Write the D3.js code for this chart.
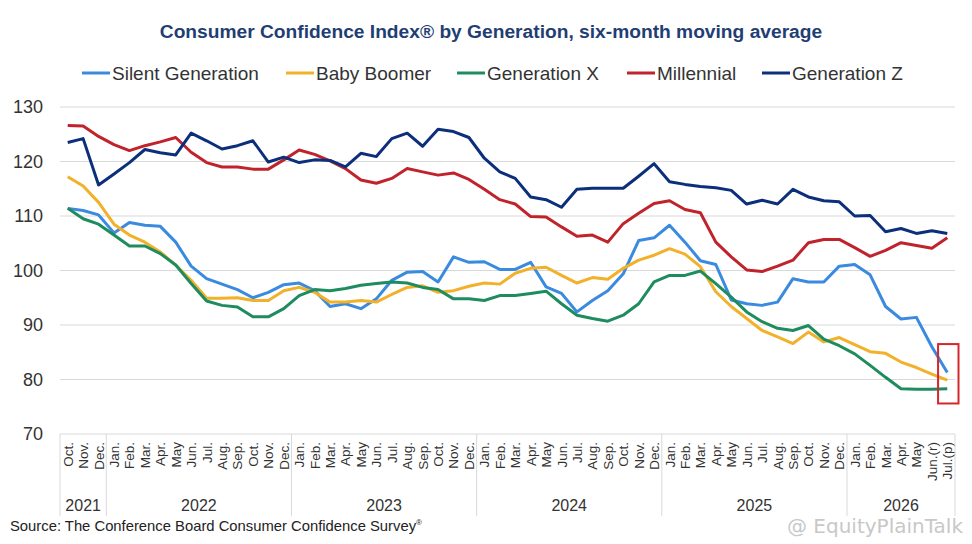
<!DOCTYPE html>
<html>
<head>
<meta charset="utf-8">
<style>
    body { margin: 0; background: #fff; }
    svg { display: block; font-family: Arial, 'Liberation Sans', sans-serif; }
    .grid line { stroke: #d9d9d9; stroke-width: 1; }
    .ytick { font-size: 18px; fill: #333; }
    .month { font-size: 13.5px; fill: #333; }
    .year { font-size: 16px; fill: #333; }
    .legend text { font-size: 19px; fill: #333; }
</style>
</head>
<body>
<svg width="972" height="544"></svg>

<script src="https://cdn.jsdelivr.net/npm/d3@7"></script>
<script>
    // months on the axis, Oct 2021 .. Jul 2026
    let months = ["Oct.", "Nov.", "Dec.",
        "Jan.", "Feb.", "Mar.", "Apr.", "May", "Jun.", "Jul.", "Aug.", "Sep.", "Oct.", "Nov.", "Dec.",
        "Jan.", "Feb.", "Mar.", "Apr.", "May", "Jun.", "Jul.", "Aug.", "Sep.", "Oct.", "Nov.", "Dec.",
        "Jan.", "Feb.", "Mar.", "Apr.", "May", "Jun.", "Jul.", "Aug.", "Sep.", "Oct.", "Nov.", "Dec.",
        "Jan.", "Feb.", "Mar.", "Apr.", "May", "Jun.", "Jul.", "Aug.", "Sep.", "Oct.", "Nov.", "Dec.",
        "Jan.", "Feb.", "Mar.", "Apr.", "May", "Jun.(r)", "Jul.(p)"]

    let years = ["2021", "2022", "2023", "2024", "2025", "2026"]
    let yearCounts = [3, 12, 12, 12, 12, 7]

    let yTicks = [70, 80, 90, 100, 110, 120, 130]

    let silent = [111.4, 111.0, 110.2, 106.9, 108.8, 108.3, 108.1, 105.2, 100.8, 98.5, 97.5, 96.5, 95.0, 96.0, 97.4,
        97.7, 96.3, 93.4, 93.9, 93.0, 94.8, 98.2, 99.7, 99.8, 97.9, 102.5, 101.5,
        101.6, 100.2, 100.2, 101.5, 97.0, 95.8, 92.4, 94.5, 96.3, 99.4, 105.5, 106.0,
        108.3, 105.2, 101.8, 101.1, 94.6, 93.9, 93.6, 94.2, 98.5, 97.9, 97.9, 100.8,
        101.1, 99.2, 93.4, 91.1, 91.4, 86.0, 81.3]

    let boomer = [117.2, 115.5, 112.5, 108.5, 106.5, 105.2, 103.4, 101.0, 98.2, 94.9, 94.9, 95.0, 94.5, 94.5, 96.3,
        96.9, 96.0, 94.2, 94.2, 94.5, 94.2, 95.6, 96.9, 97.2, 96.0, 96.3, 97.1,
        97.7, 97.5, 99.5, 100.4, 100.6, 99.1, 97.7, 98.7, 98.4, 100.4, 101.9, 102.8,
        104.0, 103.0, 100.7, 96.1, 93.4, 91.2, 89.0, 87.8, 86.6, 88.7, 86.9, 87.7,
        86.4, 85.1, 84.8, 83.2, 82.2, 81.0, 79.9]

    let genX = [111.4, 109.5, 108.5, 106.5, 104.5, 104.5, 103.1, 101.0, 97.6, 94.4, 93.6, 93.3, 91.5, 91.5, 93.0,
        95.4, 96.5, 96.3, 96.7, 97.3, 97.6, 97.9, 97.7, 96.9, 96.5, 94.8, 94.8,
        94.5, 95.4, 95.4, 95.8, 96.2, 93.9, 91.8, 91.2, 90.7, 91.8, 93.9, 97.9,
        99.1, 99.1, 99.9, 97.6, 95.1, 92.4, 90.6, 89.4, 89.0, 89.9, 87.4, 86.2,
        84.7, 82.6, 80.4, 78.3, 78.2, 78.2, 78.3]

    let millennial = [126.6, 126.5, 124.6, 123.1, 122.0, 122.9, 123.6, 124.4, 121.7, 119.8, 119.0, 119.0, 118.6, 118.6, 120.3,
        122.1, 121.3, 120.1, 118.7, 116.6, 116.0, 116.9, 118.7, 118.1, 117.5, 117.9, 116.7,
        114.9, 113.0, 112.2, 109.9, 109.8, 108.0, 106.3, 106.5, 105.2, 108.6, 110.5, 112.3,
        112.8, 111.2, 110.6, 105.2, 102.5, 100.1, 99.8, 100.8, 101.9, 105.1, 105.7, 105.7,
        104.2, 102.6, 103.7, 105.1, 104.6, 104.1, 106.0]

    let genZ = [123.5, 124.2, 115.7, 117.7, 119.8, 122.2, 121.6, 121.2, 125.2, 123.8, 122.3, 122.9, 123.8, 119.9, 120.8,
        119.8, 120.3, 120.2, 119.0, 121.5, 120.9, 124.2, 125.2, 122.8, 125.9, 125.5, 124.4,
        120.6, 118.1, 116.9, 113.5, 113.0, 111.6, 114.9, 115.1, 115.1, 115.1, 117.3, 119.6,
        116.3, 115.8, 115.4, 115.2, 114.7, 112.2, 112.9, 112.2, 114.9, 113.5, 112.8, 112.6,
        110.0, 110.1, 107.1, 107.7, 106.8, 107.3, 106.8]

    let seriesNames = ["Silent Generation", "Baby Boomer", "Generation X", "Millennial", "Generation Z"]
    let seriesValues = [silent, boomer, genX, millennial, genZ]
    let seriesColors = ["#3a8ae0", "#f2b12a", "#1e8c5e", "#c1232c", "#0c2f7c"]

    // highlighted last reading (value range of the red box)
    let boxRange = [75.6, 86.5]

    let svg = d3.select("svg")
    let margin = { top: 107, right: 17, bottom: 110, left: 60 }
    let width = 972, height = 544

    let x = d3.scaleBand()
        .domain(d3.range(months.length))
        .range([margin.left, width - margin.right])
        .padding(0)

    let y = d3.scaleLinear()
        .domain([70, 130])
        .range([height - margin.bottom, margin.top])

    // title
    svg.append("text")
        .attr("x", 491)
        .attr("y", 38)
        .attr("text-anchor", "middle")
        .style("font-size", "19.2px")
        .style("font-weight", "bold")
        .style("fill", "#1f3e74")
        .text("Consumer Confidence Index® by Generation, six-month moving average")

    // gridlines
    svg.append("g")
        .attr("class", "grid")
        .selectAll("line")
        .data(yTicks)
        .join("line")
        .attr("x1", margin.left)
        .attr("x2", width - margin.right)
        .attr("y1", d => y(d))
        .attr("y2", d => y(d))

    svg.append("g")
        .selectAll("text")
        .data(yTicks)
        .join("text")
        .attr("class", "ytick")
        .attr("x", 43)
        .attr("y", d => y(d))
        .attr("dy", "0.35em")
        .attr("text-anchor", "end")
        .text(d => d)

    // month labels, rotated
    svg.append("g")
        .selectAll("text")
        .data(months)
        .join("text")
        .attr("class", "month")
        .attr("text-anchor", "end")
        .attr("transform", (d, i) => `translate(${x(i) + x.bandwidth() / 2 + 5},${y(70) + 8}) rotate(-90)`)
        .text(d => d)

    // year separators and labels
    let starts = [0]
    yearCounts.forEach((c, i) => starts.push(starts[i] + c))

    svg.append("g")
        .attr("class", "grid")
        .selectAll("line")
        .data(starts)
        .join("line")
        .attr("x1", d => d < months.length ? x(d) : x.range()[1])
        .attr("x2", d => d < months.length ? x(d) : x.range()[1])
        .attr("y1", y(70))
        .attr("y2", y(70) + 82)

    svg.append("g")
        .selectAll("text")
        .data(years)
        .join("text")
        .attr("class", "year")
        .attr("text-anchor", "middle")
        .attr("x", (d, i) => {
            let a = x(starts[i])
            let b = starts[i + 1] < months.length ? x(starts[i + 1]) : x.range()[1]
            return (a + b) / 2
        })
        .attr("y", y(70) + 77)
        .text(d => d)

    // lines
    let line = d3.line()
        .x((d, i) => x(i) + x.bandwidth() / 2)
        .y(d => y(d))

    svg.append("g")
        .selectAll("path")
        .data(seriesValues)
        .join("path")
        .attr("fill", "none")
        .attr("stroke", (d, i) => seriesColors[i])
        .attr("stroke-width", 3)
        .attr("stroke-linejoin", "round")
        .attr("d", line)

    // red box round the last month
    let last = months.length - 1
    svg.append("rect")
        .attr("x", x(last) - 1.5)
        .attr("width", x.bandwidth() + 5)
        .attr("y", y(boxRange[1]))
        .attr("height", y(boxRange[0]) - y(boxRange[1]))
        .attr("fill", "none")
        .attr("stroke", "#d7262b")
        .attr("stroke-width", 2)

    // legend
    let legendX = [82, 286, 457, 627, 762]
    let legend = svg.append("g").attr("class", "legend")
    seriesNames.forEach((name, i) => {
        let g = legend.append("g").attr("transform", `translate(${legendX[i]},73)`)
        g.append("line")
            .attr("x1", 0).attr("x2", 28)
            .attr("stroke", seriesColors[i])
            .attr("stroke-width", 3)
        g.append("text")
            .attr("x", 30)
            .attr("dy", "0.36em")
            .text(name)
    })

    // source + watermark
    let src = svg.append("text")
        .attr("x", 10)
        .attr("y", 531)
        .style("font-size", "14.8px")
        .style("fill", "#222")
        .text("Source: The Conference Board Consumer Confidence Survey")
    src.append("tspan")
        .attr("dy", -6)
        .style("font-size", "8px")
        .text("®")

    svg.append("text")
        .attr("x", 963)
        .attr("y", 533)
        .attr("text-anchor", "end")
        .style("font-size", "20px")
        .style("fill", "#c8c8c8")
        .style("font-family", "'DejaVu Sans', sans-serif")
        .text("@ EquityPlainTalk")
</script>
</body>
</html>
